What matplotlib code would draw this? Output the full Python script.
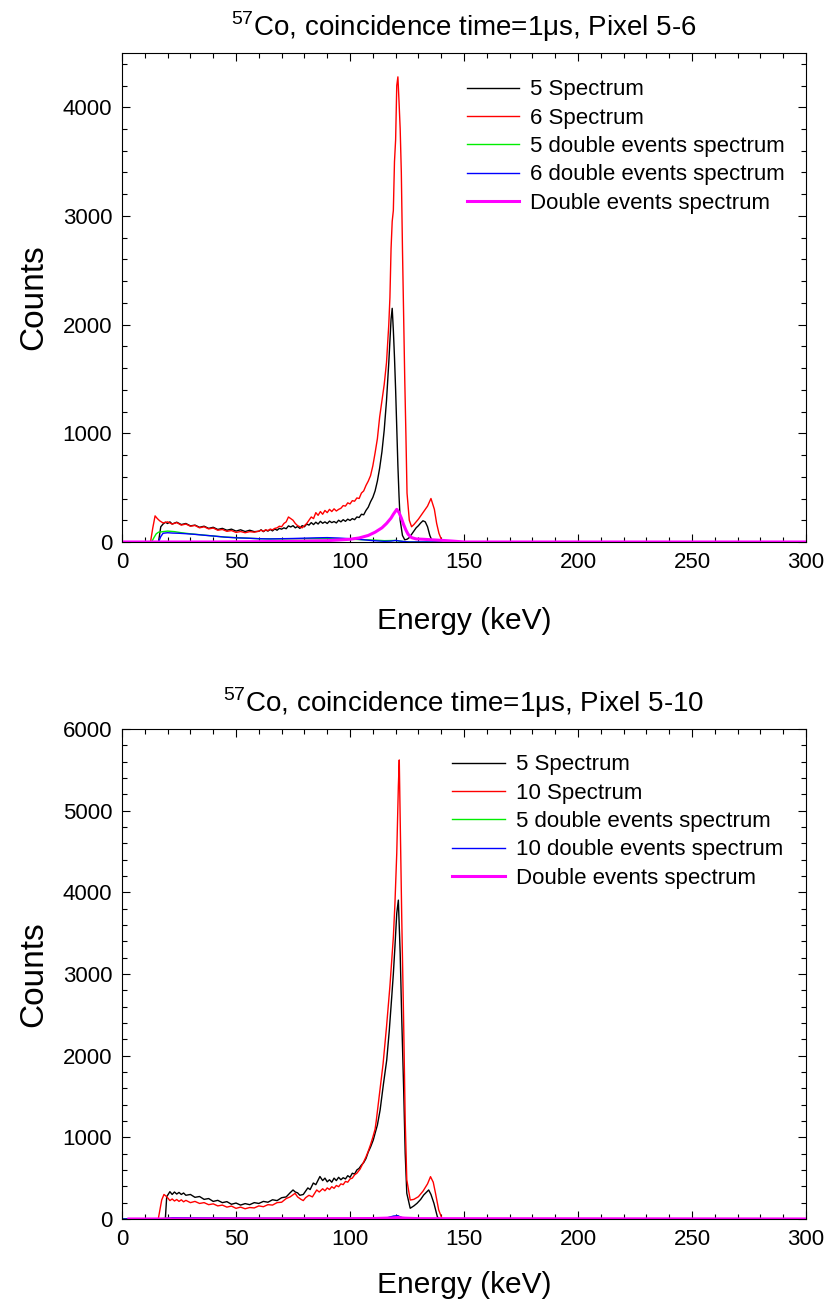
import numpy as np
import matplotlib
matplotlib.use("Agg")
import matplotlib.pyplot as plt
from matplotlib.ticker import MultipleLocator

plt.rcParams['font.family'] = ['Liberation Sans', 'DejaVu Sans']
plt.rcParams['mathtext.fontset'] = 'custom'
plt.rcParams['mathtext.rm'] = 'Liberation Sans'

# ---- top panel: pixel 5-6 ----
e5_a = [0, 16, 17, 18, 19, 20, 21, 22, 24, 26, 28, 30, 32, 34, 36, 38, 40, 42, 44, 46,
        48, 50, 52, 54, 56, 58, 60, 61, 62, 63, 64, 65, 66, 67, 68, 69, 70, 71, 72, 73,
        74, 75, 76, 77, 78, 79, 80, 81, 82, 83, 84, 85, 86, 87, 88, 89, 90, 91, 92, 93,
        94, 95, 96, 97, 98, 99, 100, 101, 102, 103, 104, 105, 106, 107, 108, 109, 110,
        111, 112, 113, 114, 115, 116, 117, 117.5, 118, 118.5, 119, 119.5, 120, 120.5,
        121, 121.5, 122, 123, 124, 125, 126, 127, 128, 129, 130, 131, 132, 133, 134,
        135, 136, 140, 300]
c5_a = [0, 0, 140, 165, 182, 170, 185, 165, 182, 160, 170, 148, 155, 135, 145, 125, 135, 115, 125, 108,
        118, 100, 112, 96, 108, 95, 98, 112, 95, 110, 100, 115, 102, 120, 108, 125, 118, 130, 122, 148,
        138, 150, 130, 142, 125, 150, 140, 165, 155, 178, 160, 182, 165, 190, 172, 185, 170, 192, 178, 188,
        175, 200, 185, 205, 190, 210, 198, 215, 205, 230, 225, 255, 250, 290, 320, 370, 410,
        470, 560, 680, 830, 1030, 1300, 1650, 1850, 2050, 2150, 1950, 1700, 1400, 1050,
        700, 420, 200, 60, 20, 25, 40, 70, 100, 130, 150, 175, 195, 185, 140,
        60, 10, 0, 0]

e6_a = [0, 12.5, 13.5, 14.5, 15.5, 16.5, 18, 20, 22, 24, 26, 28, 30, 32, 34, 36, 38, 40, 42, 44,
        46, 48, 50, 52, 54, 56, 58, 60, 61, 62, 63, 64, 65, 66, 67, 68, 69, 70, 71, 72,
        73, 74, 75, 76, 77, 78, 79, 80, 81, 82, 83, 84, 85, 86, 87, 88, 89, 90, 91, 92,
        93, 94, 95, 96, 97, 98, 99, 100, 101, 102, 103, 104, 105, 106, 107, 108, 109, 110,
        111, 112, 113, 114, 115, 116, 117, 117.5, 118, 118.5, 119, 119.5, 120, 120.5, 121,
        121.5, 122, 122.5, 123, 123.5, 124, 124.5, 125, 126, 127, 128, 130, 132, 134, 135.5,
        137, 138, 139, 140.5, 300]
c6_a = [0, 0, 130, 240, 215, 195, 175, 185, 165, 178, 155, 165, 145, 152, 130, 140, 120, 128, 108, 115,
        98, 105, 88, 96, 85, 95, 90, 100, 108, 98, 112, 105, 118, 112, 125, 130, 145, 140, 170, 185,
        230, 215, 200, 170, 150, 140, 130, 150, 170, 200, 230, 215, 270, 245, 280, 255, 290, 270, 300, 280,
        305, 285, 300, 310, 335, 330, 360, 350, 380, 375, 405, 400, 450, 470, 520, 560, 610, 700,
        820, 950, 1150, 1300, 1450, 1650, 2000, 2250, 2700, 2950, 3050, 3500, 3700, 4200, 4280,
        4050, 3800, 3400, 2700, 2100, 1500, 1000, 450, 200, 140, 160, 210, 270, 330, 400,
        300, 170, 80, 0, 0]

e5d_a = [0, 13, 14, 15, 16, 18, 20, 23, 26, 30, 35, 40, 45, 50, 55, 60, 70, 80, 90, 100,
         110, 115, 120, 122, 125, 300]
c5d_a = [0, 0, 40, 75, 90, 95, 100, 95, 85, 75, 65, 55, 45, 40, 35, 30, 28, 30, 30, 25,
         18, 12, 14, 8, 0, 0]

e6d_a = [0, 16, 17, 18, 20, 22, 25, 28, 32, 36, 40, 45, 50, 55, 60, 65, 70, 75, 80, 85,
         90, 95, 100, 105, 110, 115, 118, 120, 122, 124, 126, 300]
c6d_a = [0, 0, 50, 80, 85, 82, 80, 76, 70, 62, 55, 45, 38, 35, 30, 28, 30, 32, 35, 38,
         40, 36, 30, 22, 12, 6, 8, 14, 8, 3, 0, 0]

edbl_a = [0, 40, 60, 80, 90, 95, 100, 104, 108, 111, 114, 116, 118, 119, 120, 120.5,
          121.5, 122.5, 123.5, 124.5, 125.5, 127, 129, 132, 136, 140, 145, 150, 300]
cdbl_a = [0, 0, 3, 8, 12, 18, 25, 37, 60, 90, 130, 170, 220, 255, 285, 300,
          270, 220, 160, 110, 70, 40, 28, 25, 20, 15, 8, 0, 0]

# ---- bottom panel: pixel 5-10 ----
e5_b = [0, 19, 19.6, 21, 22, 23, 24, 25, 26, 27, 28, 30, 32, 34, 36, 38, 40, 42, 44, 46,
        48, 50, 52, 54, 56, 58, 60, 62, 64, 66, 68, 70, 72, 73.7, 75, 76, 77, 78, 79.5, 80.5,
        81.5, 82.5, 83.9, 85, 86.8, 88, 89, 90, 91, 92, 93, 94, 95, 96, 97, 98, 99, 100,
        101, 102, 103, 104, 105, 106, 107, 108, 109, 110.2, 111, 112, 113.2, 114.6, 116.1,
        117.2, 118.3, 119, 119.7, 120.5, 121.2, 122, 122.7, 123.5, 124.2, 124.9, 126.4, 128,
        129.4, 131, 132.3, 134.5, 135.5, 136.8, 138.3, 139, 300]
c5_b = [0, 0, 273, 334, 300, 330, 305, 325, 300, 318, 290, 300, 265, 275, 240, 250, 215, 228, 200, 212,
        180, 195, 170, 188, 175, 200, 190, 215, 205, 235, 225, 260, 270, 320, 355, 330, 320, 290, 300, 340,
        380, 360, 440, 420, 520, 470, 500, 455, 480, 450, 500, 470, 510, 480, 505, 490, 530, 510,
        560, 550, 600, 620, 660, 690, 740, 820, 880, 967, 1050, 1150, 1334, 1640, 1946,
        2300, 2721, 3000, 3333, 3742, 3904, 3252, 2436, 1619, 804, 314, 131, 160,
        192, 240, 293, 355, 300, 192, 28, 0, 0]

e10_b = [0, 15.9, 17.4, 18.4, 19.3, 20.3, 21, 22, 23, 24, 25, 26, 27, 28, 30, 32, 34, 36, 38, 40,
         42, 44, 46, 48, 50, 52, 54, 56, 58, 60, 62, 64, 66, 68, 70, 72, 73.7, 75.9, 77, 78.5,
         79.5, 80.5, 82, 83.5, 85.4, 86.5, 88, 89, 90, 91, 92, 93, 94, 95, 96, 97, 98, 99,
         100, 101, 102, 103, 104.4, 106, 107, 108, 109, 110, 111, 111.5, 113, 114.5, 116,
         117.5, 119, 119.7, 120.5, 121.2, 121.6, 122, 122.7, 123.5, 124.2, 124.9, 126.4, 128,
         130, 132, 134, 135.3, 136.5, 137.5, 138.9, 140.4, 300]
c10_b = [0, 0, 232, 300, 280, 250, 225, 245, 220, 238, 215, 235, 210, 228, 200, 215, 190, 200, 175, 185,
         160, 170, 145, 158, 130, 145, 125, 140, 135, 160, 150, 175, 170, 200, 205, 250, 270, 314, 270, 240,
         225, 260, 290, 270, 355, 330, 370, 345, 380, 360, 395, 375, 410, 395, 430, 420, 460, 450,
         490, 500, 540, 560, 610, 700, 760, 830, 910, 1000, 1100, 1200, 1550, 1900, 2350,
         2850, 3450, 3860, 4480, 5300, 5620, 4900, 3660, 2440, 1210, 480, 232, 240,
         273, 340, 430, 518, 450, 314, 110, 0, 0]

e5d_b = [0, 15, 20, 60, 100, 116, 119, 121, 123, 126, 300]
c5d_b = [0, 0, 10, 8, 6, 10, 30, 35, 15, 0, 0]
e10d_b = [0, 18, 22, 60, 100, 116, 119, 121, 123, 126, 300]
c10d_b = [0, 0, 15, 8, 5, 12, 35, 40, 10, 0, 0]
edbl_b = [3, 60, 110, 118, 121, 124, 130, 300]
cdbl_b = [0, 2, 5, 12, 18, 10, 4, 0]

panels = [
    dict(pix="6", ymax=4500, rect=[0.1479, 0.5866, 0.8291, 0.3730], leg=(0.504, 0.946), xpad=25,
         series=[(e5_a, c5_a), (e6_a, c6_a), (e5d_a, c5d_a), (e6d_a, c6d_a), (edbl_a, cdbl_a)]),
    dict(pix="10", ymax=6000, rect=[0.1479, 0.0702, 0.8291, 0.3738], leg=(0.483, 0.948), xpad=15,
         series=[(e5_b, c5_b), (e10_b, c10_b), (e5d_b, c5d_b), (e10d_b, c10d_b), (edbl_b, cdbl_b)]),
]

colors = ["black", "red", "#00ee00", "blue", "magenta"]
widths = [1.0, 1.0, 1.0, 1.0, 2.2]

fig = plt.figure(figsize=(8.25, 13.11), dpi=100)

for p in panels:
    ax = fig.add_axes(p["rect"])
    labels = ["5 Spectrum", p["pix"] + " Spectrum", "5 double events spectrum",
              p["pix"] + " double events spectrum", "Double events spectrum"]
    for (e, c), col, lw, lab in zip(p["series"], colors, widths, labels):
        ax.plot(e, c, color=col, lw=lw, label=lab)
    ax.set_xlim(0, 300)
    ax.set_ylim(0, p["ymax"])
    ax.xaxis.set_major_locator(MultipleLocator(50))
    ax.xaxis.set_minor_locator(MultipleLocator(10))
    ax.yaxis.set_major_locator(MultipleLocator(1000))
    ax.yaxis.set_minor_locator(MultipleLocator(200))
    ax.tick_params(which='both', direction='in', top=True, right=True, labelsize=16, width=0.8)
    ax.tick_params(which='major', length=6, pad=7)
    ax.tick_params(which='minor', length=3.5)
    for s in ax.spines.values():
        s.set_linewidth(0.8)
    ax.set_xlabel("Energy (keV)", fontsize=21.5, labelpad=p["xpad"])
    ax.set_ylabel("Counts", fontsize=24, labelpad=10)
    ax.set_title(r"$^{57}$Co, coincidence time=1μs, Pixel 5-" + p["pix"], fontsize=20, pad=12)
    ax.legend(loc='upper left', bbox_to_anchor=p["leg"], frameon=False, fontsize=16,
              handlelength=2.35, handletextpad=0.5, labelspacing=0.33, borderpad=0,
              borderaxespad=0)

fig.savefig("out.png", dpi=100)
